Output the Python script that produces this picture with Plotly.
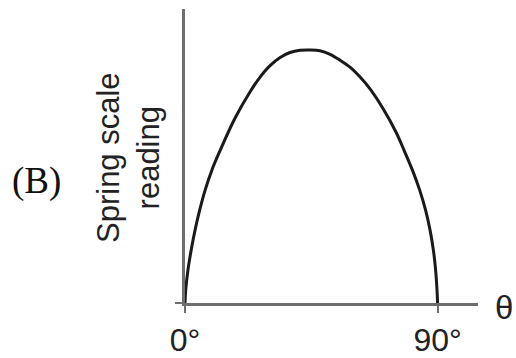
import plotly.graph_objects as go

# Angle theta (degrees) and spring scale reading (relative units, peak = 1)
theta = [0, 0.25, 1.05, 2.2, 3.6, 5.25, 7.2, 9.6, 12.6, 17.8, 23.2, 26.7,
         30.3, 33.9, 37.4, 41.0, 44.5, 48.1, 51.7, 55.2, 58.8, 62.4, 66.0, 70.6,
         75.2, 78.0, 81.0, 83.6, 85.7, 87.3, 88.5, 89.3, 89.8, 90]
reading = [0, 0.051, 0.130, 0.209, 0.289, 0.368, 0.447, 0.526, 0.605, 0.730, 0.835, 0.892,
           0.938, 0.970, 0.990, 0.999, 1.0, 0.997, 0.983, 0.960, 0.932, 0.893, 0.845, 0.768,
           0.675, 0.605, 0.526, 0.447, 0.368, 0.289, 0.209, 0.130, 0.051, 0]
x_tickvals = [0, 90]
x_ticktext = ["0°", "90°"]
y_title = "Spring scale<br>reading"
panel_label = "(B)"
x_label = "θ"

fig = go.Figure()
fig.add_trace(go.Scatter(x=theta, y=reading, mode="lines", line_shape="spline",
                         line=dict(color="#1a1a1a", width=3, smoothing=1.0),
                         hoverinfo="skip"))

fig.update_layout(
    width=516, height=358,
    margin=dict(l=185, r=38, t=9, b=55, autoexpand=False),
    paper_bgcolor="white", plot_bgcolor="white",
    showlegend=False,
    font=dict(family="Liberation Sans", color="#222"),
    xaxis=dict(range=[0, 104.4], showgrid=False, zeroline=False, automargin=False,
               showline=True, linecolor="#6e6e6e", linewidth=3,
               tickvals=x_tickvals, ticktext=x_ticktext,
               ticks="outside", ticklen=7, tickwidth=2, tickcolor="#6e6e6e",
               tickfont=dict(size=32, family="Liberation Sans", color="#222")),
    yaxis=dict(range=[0, 1.162], showgrid=False, zeroline=False, automargin=False,
               showline=True, linecolor="#6e6e6e", linewidth=3,
               tickvals=[0], ticks="outside", ticklen=7, tickwidth=2,
               tickcolor="#6e6e6e", showticklabels=False),
    annotations=[
        dict(text=y_title, xref="paper", yref="paper",
             x=(128 - 185) / 293, y=(303 - 158) / 294,
             xanchor="center", yanchor="middle", textangle=-90, showarrow=False,
             font=dict(size=31, family="Liberation Sans", color="#222")),
        dict(text=panel_label, xref="paper", yref="paper",
             x=(36 - 185) / 293, y=(303 - 181) / 294,
             xanchor="center", yanchor="middle", showarrow=False,
             font=dict(size=37, family="Liberation Serif", color="#111")),
        dict(text=x_label, xref="paper", yref="paper",
             x=(504 - 185) / 293, y=(303 - 307) / 294,
             xanchor="center", yanchor="middle", showarrow=False,
             font=dict(size=33, family="Liberation Sans", color="#222")),
    ],
)

fig.write_html("out.html", config={"displayModeBar": False},
               post_script="document.body.style.margin='0';")
